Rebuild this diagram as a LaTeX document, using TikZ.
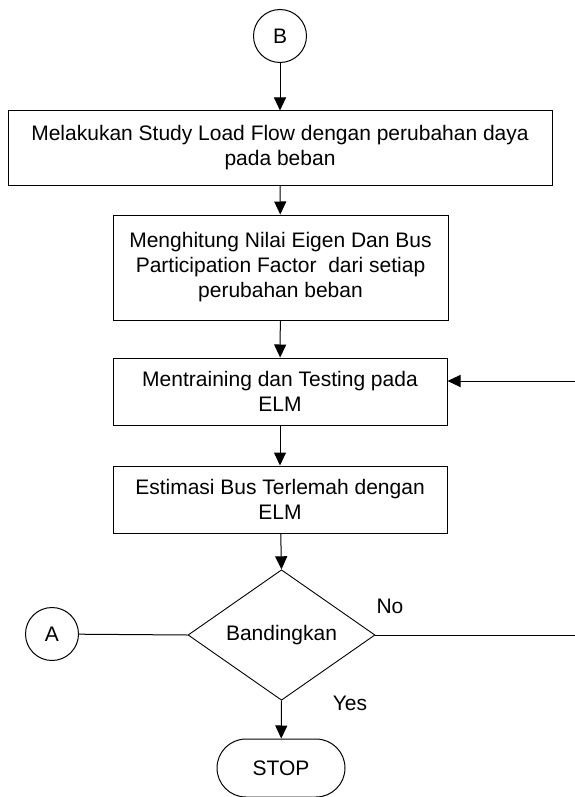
\documentclass[tikz,border=0pt]{standalone}
\usepackage{fontspec}
\setmainfont{Liberation Sans}
\usetikzlibrary{arrows.meta,shapes.geometric,shapes.misc}
\begin{document}
\begin{tikzpicture}[x=1pt,y=-1pt,
  every node/.style={font=\fontsize{21}{25}\selectfont},
  procbox/.style={draw, line width=1pt, align=center, inner sep=0pt},
  connector/.style={draw, circle, line width=1pt, minimum size=53pt, inner sep=0pt},
  decision/.style={draw, diamond, line width=0.9pt, minimum width=187pt, minimum height=112pt, inner sep=0pt},
  terminal/.style={draw, rounded rectangle, line width=1pt, minimum width=128pt, minimum height=58pt, inner sep=0pt},
  flow/.style={line width=1pt, -{Triangle[length=13pt,width=12pt]}},
  plain/.style={line width=1pt}
]
\useasboundingbox (0,0) rectangle (575,797);

% connectors and process steps
\node[connector] (B) at (280,36) {B};
\node[procbox, minimum width=544pt, minimum height=74pt] (load) at (280,148)
  {Melakukan Study Load Flow dengan perubahan daya\\pada beban};
\node[procbox, minimum width=335pt, minimum height=105pt] (eigen) at (280.5,267.5)
  {Menghitung Nilai Eigen Dan Bus\\Participation Factor\ \ dari setiap\\perubahan beban};
\node[procbox, minimum width=334pt, minimum height=67pt] (train) at (280,391.5)
  {Mentraining dan Testing pada\\ELM};
\node[procbox, minimum width=334pt, minimum height=67pt] (est) at (280,499.5)
  {Estimasi Bus Terlemah dengan\\ELM};
\node[decision] (cmp) at (281.5,635) {Bandingkan};
\node[connector] (A) at (52,634) {A};
\node[terminal] (stop) at (281,768) {STOP};

% branch labels
\node (no) at (390,606) {No};
\node (yes) at (350,703) {Yes};

% free ends of the loop lines at the right margin
\coordinate (loopin) at (575,381);
\coordinate (loopout) at (575,635);

% main flow
\draw[flow] (B) -- (load);
\draw[flow] (load) -- (eigen);
\draw[flow] (eigen) -- (train);
\draw[flow] (train) -- (est);
\draw[flow] (est) -- (cmp.north);
\draw[flow] (cmp.south) -- (stop);

% side lines
\draw[flow] (loopin) -- (train.east |- loopin);
\draw[plain] (A) -- (cmp.west);
\draw[plain] (cmp.east) -- (loopout);
\end{tikzpicture}
\end{document}
